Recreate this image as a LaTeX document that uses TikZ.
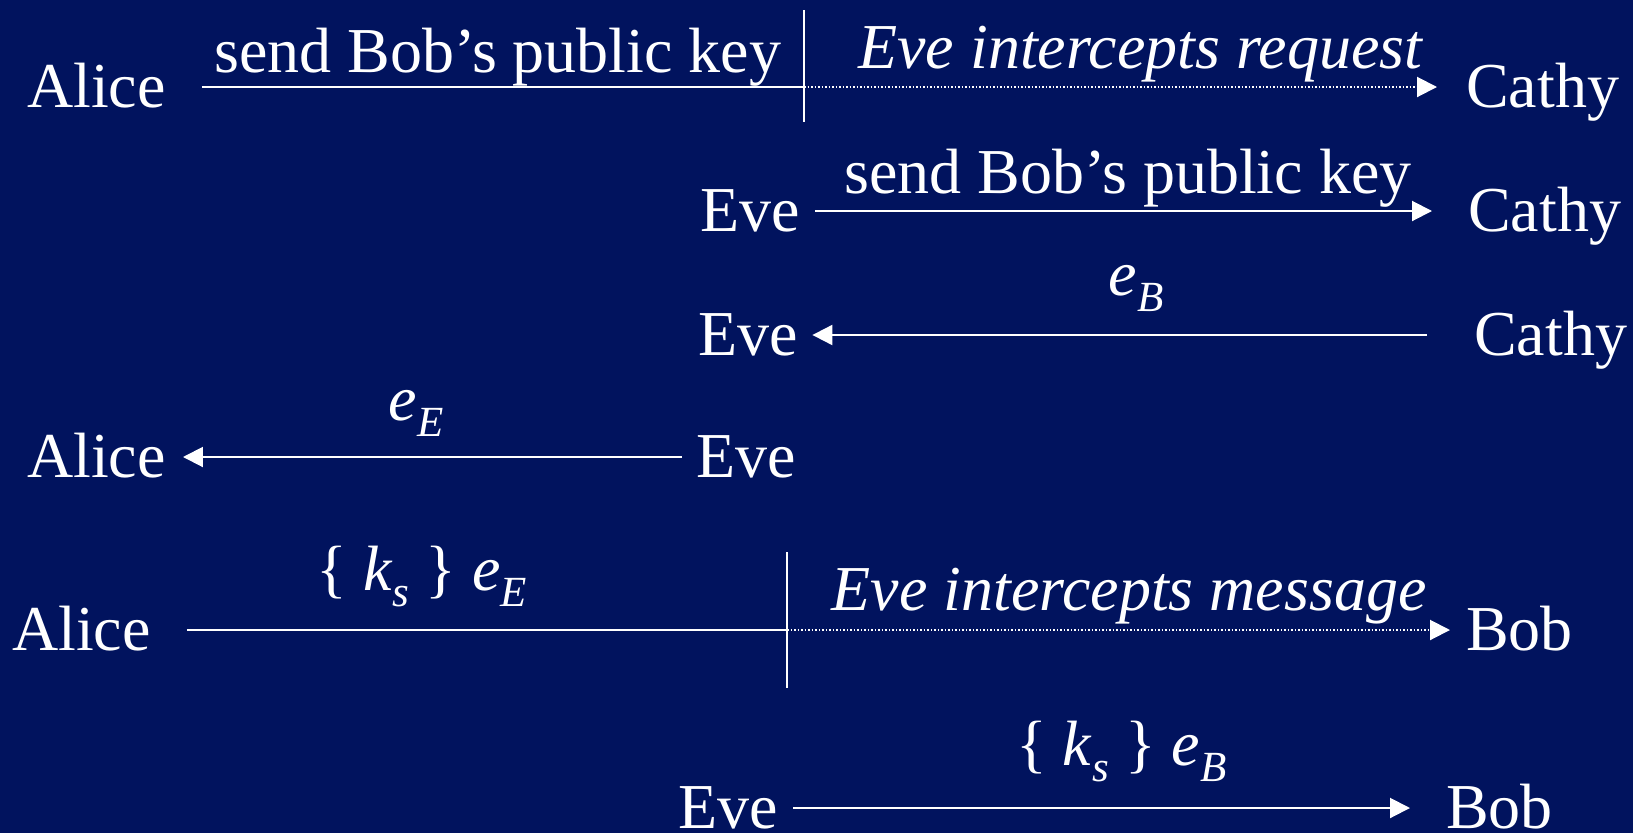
\documentclass[tikz,border=0pt]{standalone}
\usepackage{fontspec}
\setmainfont{Liberation Serif}
\usetikzlibrary{arrows.meta}
\definecolor{slidebg}{RGB}{1,19,94}
\newcommand{\lowsub}[1]{\raisebox{-16pt}{\fontsize{43}{43}\selectfont\itshape #1}}
\newcommand{\evar}[2]{\textit{#1}\lowsub{#2}}

\begin{document}
\begin{tikzpicture}[x=1pt, y=-1pt,
    party/.style={text=white, font=\fontsize{64}{72}\selectfont, inner sep=0pt,
      text height=46pt, text depth=6pt, anchor=west},
    lowparty/.style={party, text height=44pt, text depth=4pt},
    lbl/.style={text=white, font=\fontsize{64}{72}\selectfont, inner sep=0pt, anchor=base},
    msg/.style={draw=white, line width=2pt},
    arr/.style={msg, -{Triangle[length=20pt, width=20pt]}},
    sniff/.style={arr, dash pattern=on 1.5pt off 2pt},
    cutbar/.style={draw=white, line width=2pt}]
  \fill[slidebg] (0,0) rectangle (1633,833);

  % request intercepted
  \node[party] (alice1) at (27,87) {Alice};
  \node[party] (cathy1) at (1466,87) {Cathy};
  \coordinate (cut1) at (804,87);
  \draw[msg, shorten <=36pt] (alice1) -- (cut1)
    node[lbl, pos=0.52, yshift=15pt] {send Bob’s public key};
  \draw[sniff, shorten >=29pt] (cut1) -- (cathy1)
    node[lbl, pos=0.508, yshift=19pt] {\itshape Eve intercepts request};
  \draw[cutbar] (cut1) ++(0,-77) -- ++(0,112);

  % Eve asks Cathy
  \node[party] (eve2) at (700,211) {Eve};
  \node[party] (cathy2) at (1468,211) {Cathy};
  \draw[arr, shorten <=15.5pt, shorten >=36pt] (eve2) -- (cathy2)
    node[lbl, pos=0.491, yshift=18pt] {send Bob’s public key};

  % Cathy answers
  \node[party] (eve3) at (698,335) {Eve};
  \node[party] (cathy3) at (1474,335) {Cathy};
  \draw[arr, shorten <=47pt, shorten >=14.5pt] (cathy3) -- (eve3)
    node[lbl, pos=0.5, yshift=40pt] {\evar{e}{B}};

  % Eve passes her own key
  \node[party] (alice4) at (27,457) {Alice};
  \node[party] (eve4) at (696,457) {Eve};
  \draw[arr, shorten <=14pt, shorten >=17pt] (eve4) -- (alice4)
    node[lbl, pos=0.528, yshift=37pt] {\evar{e}{E}};

  % message intercepted
  \node[party] (alice5) at (12,630) {Alice};
  \node[party] (bob5) at (1466,630) {Bob};
  \coordinate (cut5) at (787,630);
  \draw[msg, shorten <=36pt] (alice5) -- (cut5)
    node[lbl, pos=0.426, yshift=40pt] {\{ \evar{k}{s} \} \evar{e}{E}};
  \draw[sniff, shorten >=16pt] (cut5) -- (bob5)
    node[lbl, pos=0.504, yshift=20pt] {\itshape Eve intercepts message};
  \draw[cutbar] (cut5) ++(0,-78) -- ++(0,136);

  % Eve forwards to Bob
  \node[lowparty] (eve6) at (678,808) {Eve};
  \node[lowparty] (bob6) at (1446,808) {Bob};
  \draw[arr, shorten <=15.5pt, shorten >=36pt] (eve6) -- (bob6)
    node[lbl, pos=0.514, yshift=43pt] {\{ \evar{k}{s} \} \evar{e}{B}};
\end{tikzpicture}
\end{document}
